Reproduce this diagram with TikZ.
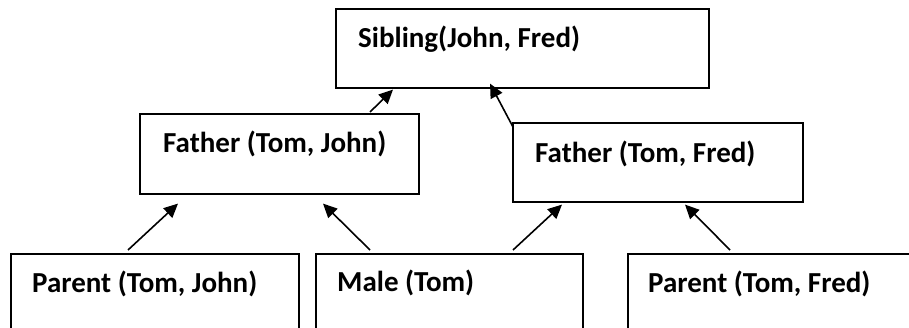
\documentclass[tikz,border=0pt]{standalone}
\usepackage{fontspec}
\setmainfont{Carlito}
\usetikzlibrary{arrows.meta}
\tikzset{
  box/.style={draw=black, line width=1.6pt, fill=white, inner sep=0pt, anchor=north west},
  lbl/.style={inner sep=0pt, anchor=base west, font=\fontsize{29}{32}\selectfont\bfseries},
  conn/.style={line width=1.6pt, -{Triangle[length=14pt,width=13pt]}, shorten >=0pt}
}
\begin{document}
\begin{tikzpicture}[x=1pt,y=-1pt]
\useasboundingbox (0,0) rectangle (909,328);
\clip (0,0) rectangle (909,328);
% boxes
\node[box, minimum width=373pt, minimum height=79pt] (sib) at (335,8) {};
\node[box, minimum width=279pt, minimum height=80pt] (fj) at (139,113) {};
\node[box, minimum width=290pt, minimum height=79pt] (ff) at (512,122) {};
\node[box, minimum width=288pt, minimum height=82pt] (pj) at (10,253) {};
\node[box, minimum width=267pt, minimum height=82pt] (male) at (315,253) {};
\node[box, minimum width=298pt, minimum height=82pt] (pf) at (627,253) {};
% labels
\node[lbl] (tsib) at (358,48) {Sibling(John, Fred)};
\node[lbl] (tfj) at (163,153) {Father (Tom, John)};
\node[lbl] (tff) at (535,162.5) {Father (Tom, Fred)};
\node[lbl] (tpj) at (32,292.5) {Parent (Tom, John)};
\node[lbl] (tmale) at (337,291.5) {Male (Tom)};
\node[lbl] (tpf) at (648,292) {Parent (Tom, Fred)};
% connectors
\draw[conn] ([xshift=231pt,yshift=1pt]fj.north west) -- ([xshift=58pt,yshift=-1pt]sib.south west);
\draw[conn] ([xshift=1pt,yshift=-5pt]ff.north west) -- ([xshift=155pt,yshift=5pt]sib.south west);
\draw[conn] ([xshift=118pt,yshift=3pt]pj.north west) -- ([xshift=39pt,yshift=-9pt]fj.south west);
\draw[conn] ([xshift=55pt,yshift=3pt]male.north west) -- ([xshift=184pt,yshift=-9pt]fj.south west);
\draw[conn] ([xshift=198pt,yshift=3pt]male.north west) -- ([xshift=50pt,yshift=-2pt]ff.south west);
\draw[conn] ([xshift=103pt,yshift=3pt]pf.north west) -- ([xshift=173pt,yshift=-2pt]ff.south west);
\end{tikzpicture}
\end{document}
